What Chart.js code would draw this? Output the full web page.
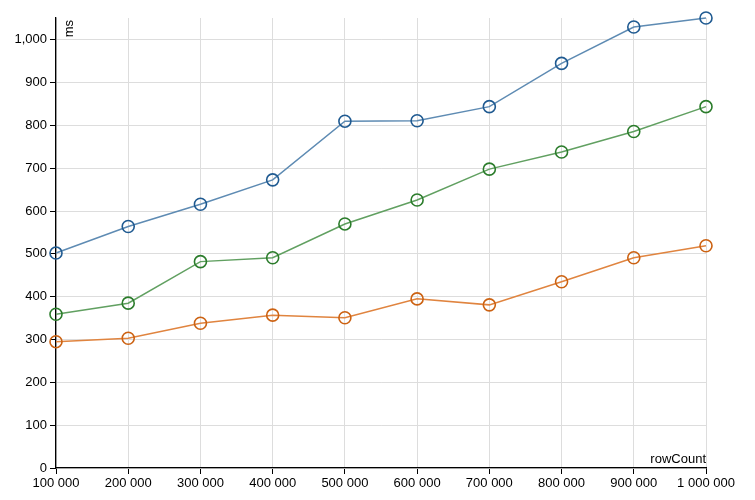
<!DOCTYPE html>
<html>
<head>
<meta charset="utf-8">
<script src="https://cdn.jsdelivr.net/npm/chart.js@4.4.1/dist/chart.umd.min.js"></script>
<style>
html,body{margin:0;padding:0;background:#fff;}
#wrap{width:755px;height:500px;position:relative;}
</style>
</head>
<body>
<div id="wrap"><canvas id="c" width="755" height="500"></canvas></div>
<script>
const rowCounts = [100000, 200000, 300000, 400000, 500000, 600000, 700000, 800000, 900000, 1000000];
const seriesBlue = [502, 564, 616, 673, 810, 811, 844, 945, 1030, 1051];
const seriesGreen = [359, 385, 482, 491, 570, 626, 698, 738, 786, 844];
const seriesOrange = [295, 303, 338, 357, 351, 395, 381, 435, 491, 519];
const yTitle = 'ms';
const xTitle = 'rowCount';

const FONT = 'Liberation Sans, Arial, sans-serif';

function pts(vals){ return rowCounts.map((x,i)=>({x:x,y:vals[i]})); }
function ds(vals, line, mark){
  return {
    data: pts(vals),
    borderColor: line,
    borderWidth: 1.5,
    pointRadius: 6,
    pointHoverRadius: 6,
    pointBorderWidth: 1.6,
    pointBorderColor: mark,
    pointBackgroundColor: 'rgba(0,0,0,0)',
    tension: 0,
    clip: false,
    fill: false
  };
}

const titles = {
  id: 'axisTitles',
  afterDraw(chart){
    const ctx = chart.ctx, a = chart.chartArea;
    ctx.save();
    ctx.fillStyle = '#000';
    ctx.font = '13px ' + FONT;
    ctx.textAlign = 'right';
    ctx.textBaseline = 'alphabetic';
    ctx.fillText(xTitle, a.right, a.bottom - 5);
    ctx.translate(a.left + 16.5, a.top + 2);
    ctx.rotate(-Math.PI/2);
    ctx.textAlign = 'right';
    ctx.fillText(yTitle, 0, 0);
    ctx.restore();
  }
};

new Chart(document.getElementById('c'), {
  type: 'line',
  data: {
    datasets: [
      ds(seriesBlue, '#5e8bb3', '#1f5a91'),
      ds(seriesGreen, '#61a061', '#2b7c2b'),
      ds(seriesOrange, '#e0843f', '#cc6212')
    ]
  },
  options: {
    responsive: false,
    animation: false,
    devicePixelRatio: 1,
    layout: { padding: { top: 18, right: 49, left: 0, bottom: 0 } },
    plugins: { legend: { display: false }, tooltip: { enabled: false } },
    scales: {
      x: {
        type: 'linear',
        min: 100000,
        max: 1000000,
        afterFit(s){ s.height = 32; },
        ticks: {
          stepSize: 100000,
          color: '#000',
          font: { family: FONT, size: 13 },
          padding: 2,
          maxRotation: 0,
          autoSkip: false,
          callback: v => String(v).replace(/\B(?=(\d{3})+(?!\d))/g, ' ')
        },
        grid: { color: '#dddddd', lineWidth: 1, tickLength: 6, tickColor: '#000' },
        border: { color: '#000', width: 1.3 }
      },
      y: {
        type: 'linear',
        min: 0,
        max: 1051,
        afterFit(s){ s.width = 56; },
        ticks: {
          stepSize: 100,
          includeBounds: false,
          color: '#000',
          font: { family: FONT, size: 13 },
          padding: 3,
          callback: v => String(v).replace(/\B(?=(\d{3})+(?!\d))/g, ',')
        },
        grid: { color: '#dddddd', lineWidth: 1, tickLength: 6, tickColor: '#000' },
        border: { color: '#000', width: 1.3 }
      }
    }
  },
  plugins: [titles]
});
</script>
</body>
</html>
